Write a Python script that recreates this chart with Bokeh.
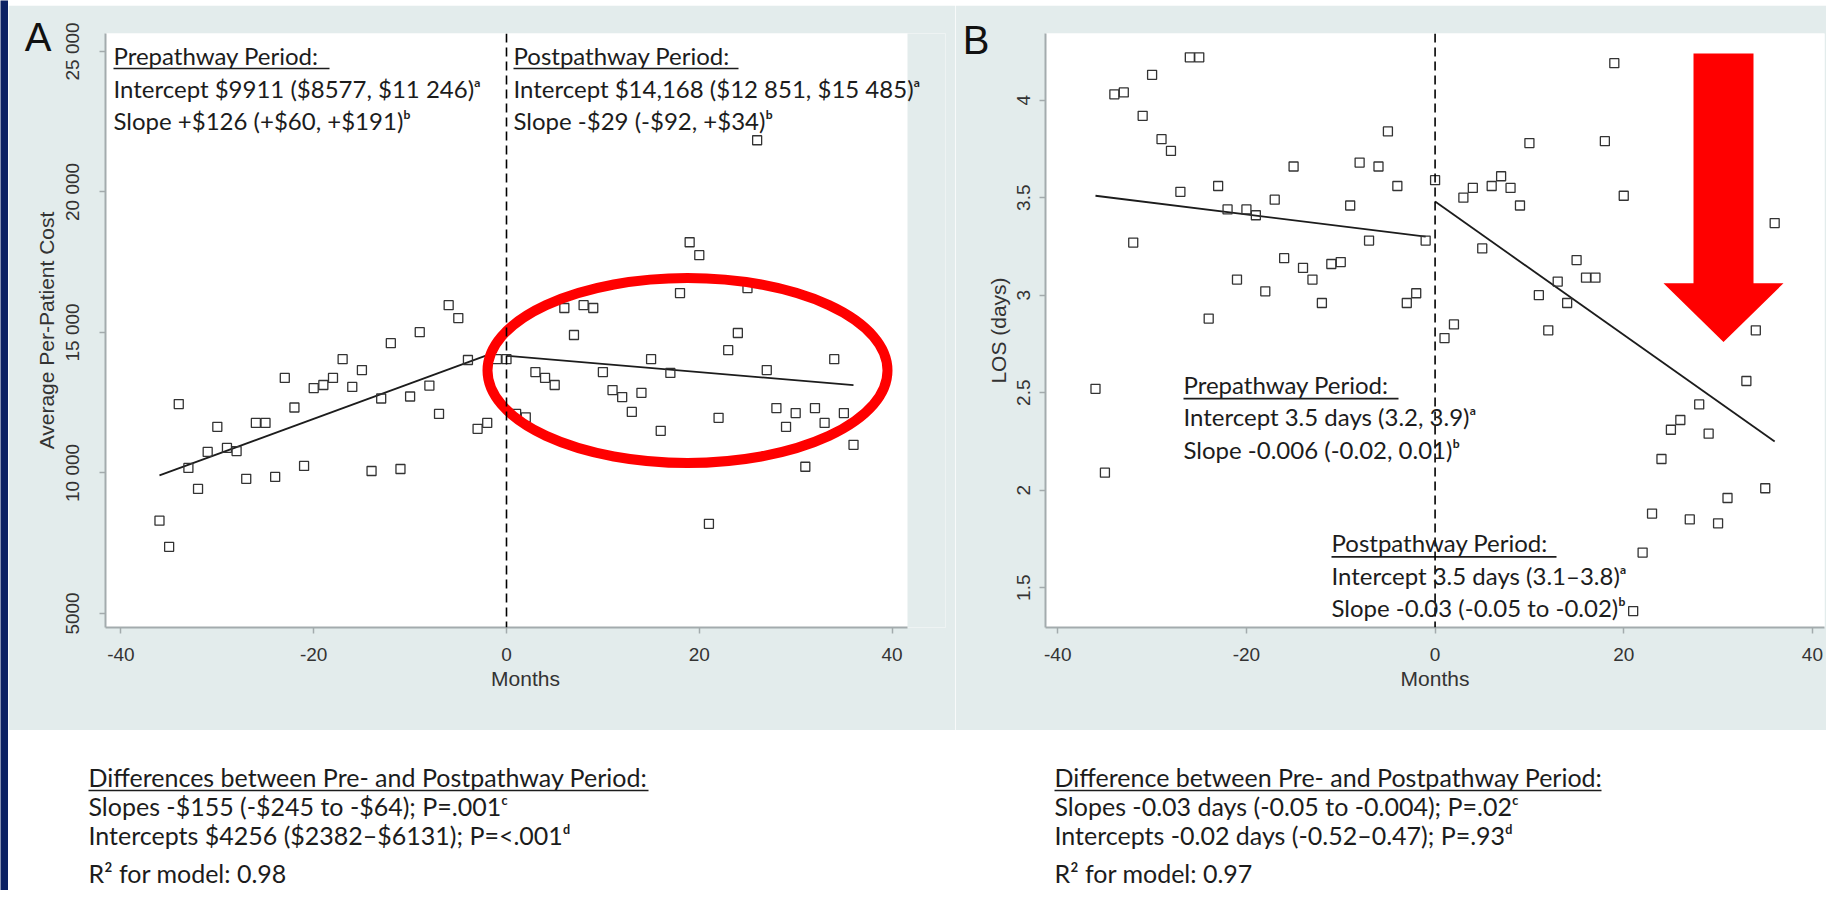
from bokeh.plotting import figure
from bokeh.models import Range1d, Label, Span, FixedTicker, LinearAxis
from bokeh.layouts import column, row
from bokeh.embed import file_html
from bokeh.resources import INLINE

# ---------------- data ----------------
months_pre = list(range(-36, 0))
months_post = list(range(0, 37))

cost_pre = [8300, 7370, 12450, 10180, 9430, 10750, 11640, 10890, 10780, 9790,
            11780, 11780, 9860, 13380, 12330, 10250, 13020, 13130, 13380, 14050,
            13060, 13660, 10070, 12650, 14620, 10140, 12720, 15010, 13110, 12100,
            15970, 15510, 14020, 11570, 11780, 14050]
cost_post = [14050, 12100, 11980, 13590, 13380, 13130, 15870, 14910, 15970, 15870,
             13590, 12950, 12700, 12170, 12850, 14050, 11500, 13560, 16400, 18210,
             17750, 8190, 11960, 14370, 14980, 16580, 21840, 13660, 12310, 11640,
             12130, 10220, 12310, 11780, 14050, 12130, 11000]

los_pre = [2.52, 2.09, 4.03, 4.04, 3.27, 3.92, 4.13, 3.80, 3.74, 3.53,
           4.22, 4.22, 2.88, 3.56, 3.44, 3.08, 3.44, 3.41, 3.02, 3.49,
           3.19, 3.66, 3.14, 3.08, 2.96, 3.16, 3.17, 3.46, 3.68, 3.28,
           3.66, 3.84, 3.56, 2.96, 3.01, 3.28]
months_post_los = [0, 1, 2, 3, 4, 5, 6, 7, 8, 9, 10, 11, 12, 13, 14, 15, 16, 17,
                   18, 19, 20, 21, 22, 23, 24, 25, 26, 27, 28, 29, 30, 31, 33, 34, 35, 36]
los_post = [3.59, 2.78, 2.85, 3.50, 3.55, 3.24, 3.56, 3.61, 3.55, 3.46,
            3.78, 3.00, 2.82, 3.07, 2.96, 3.18, 3.09, 3.09, 3.79, 4.19,
            3.51, 1.38, 1.68, 1.88, 2.16, 2.31, 2.36, 1.85, 2.44, 2.29,
            1.83, 1.96, 2.56, 2.82, 2.01, 3.37]

# fitted segments (end points)
cost_fit_pre_x, cost_fit_pre_y = [-36, -1], [9911, 14320]
cost_fit_post_x, cost_fit_post_y = [0, 36], [14168, 13124]
los_fit_pre_x, los_fit_pre_y = [-36, -1], [3.51, 3.30]
los_fit_post_x, los_fit_post_y = [0, 36], [3.48, 2.25]

x_ticks = [-40, -20, 0, 20, 40]
x_tick_labels = ["-40", "-20", "0", "20", "40"]
cost_ticks = [5000, 10000, 15000, 20000, 25000]
cost_tick_labels = ["5000", "10 000", "15 000", "20 000", "25 000"]
los_ticks = [1.5, 2, 2.5, 3, 3.5, 4]
los_tick_labels = ["1.5", "2", "2.5", "3", "3.5", "4"]

# ---------------- styles / geometry ----------------
FONT_TXT = "Lato"
FONT_AX = "Liberation Sans"
GRAY_BG = "#e3ecec"
NAVY = "#0c2163"
AXIS_C = "#a3abad"
INK = "#1c1c1c"
RED = "#ff0000"

# panel A: frame pixels (left, right, top, bottom) and range start / px per unit
A_FR = (105, 945, 33, 627)
A_X0, A_XPU = -41.6, 9.6394
A_Y0, A_YPU = 4500, 0.0281
A_XR = (A_X0, A_X0 + (A_FR[1] - A_FR[0]) / A_XPU)
A_YR = (A_Y0, A_Y0 + (A_FR[3] - A_FR[2]) / A_YPU)

B_FR = (1045, 1824, 30, 627)
B_X0, B_XPU = -41.3, 9.433
B_Y0, B_YPU = 1.296, 196.0
B_XR = (B_X0, B_X0 + (B_FR[1] - B_FR[0]) / B_XPU)
B_YR = (B_Y0, B_Y0 + (B_FR[3] - B_FR[2]) / B_YPU)


def conv(px0, px1, lo, hi):
    return lambda px: lo + (px - px0) / (px1 - px0) * (hi - lo)


ax_ = conv(A_FR[0], A_FR[1], *A_XR)
ay_ = conv(A_FR[3], A_FR[2], *A_YR)
bx_ = conv(B_FR[0], B_FR[1], *B_XR)
by_ = conv(B_FR[3], B_FR[2], *B_YR)


def style_axes(p, ylab, y_std, y_lab_std, x_std=14, x_lab_std=3):
    for ax in (p.xaxis[0], p.yaxis[0]):
        ax.axis_line_color = AXIS_C
        ax.axis_line_width = 2
        ax.major_tick_line_color = AXIS_C
        ax.major_tick_line_width = 1.5
        ax.major_tick_out = 6
        ax.major_tick_in = 0
        ax.minor_tick_line_color = None
        ax.major_label_text_font = FONT_AX
        ax.major_label_text_font_size = "19px"
        ax.major_label_text_color = "#333333"
        ax.axis_label_text_font = FONT_AX
        ax.axis_label_text_font_size = "21px"
        ax.axis_label_text_font_style = "normal"
        ax.axis_label_text_color = "#333333"
    p.xaxis.axis_label = "Months"
    p.yaxis.axis_label = ylab
    p.xaxis.major_label_standoff = x_std
    p.xaxis.axis_label_standoff = x_lab_std
    p.yaxis.major_label_standoff = y_std
    p.yaxis.axis_label_standoff = y_lab_std
    p.yaxis.major_label_orientation = "vertical"
    p.grid.visible = False
    p.outline_line_color = None


def make_panel(x_left, width, fr, xr, yr):
    return figure(width=width, height=725, x_range=Range1d(*xr), y_range=Range1d(*yr),
                  output_backend="svg", toolbar_location=None,
                  min_border_left=fr[0] - x_left, min_border_right=x_left + width - fr[1],
                  min_border_top=fr[2] - 5, min_border_bottom=730 - fr[3],
                  background_fill_color="white", border_fill_color=GRAY_BG)


def add_letter(p, yval, letter, standoff):
    ax = LinearAxis(ticker=FixedTicker(ticks=[yval]), major_label_overrides={yval: letter},
                    axis_line_color=None, major_tick_line_color=None, minor_tick_line_color=None,
                    major_tick_out=0, major_tick_in=0, major_label_standoff=standoff,
                    major_label_text_font=FONT_AX, major_label_text_font_size="40px",
                    major_label_text_color="#111111")
    p.add_layout(ax, "left")


def add_text(p, fx, fy, x, y, txt, size="24px", font=FONT_TXT):
    p.add_layout(Label(x=fx(x), y=fy(y), text=txt, text_font=font, text_font_size=size,
                       text_color=INK, text_baseline="middle", text_align="left"))


def add_uline(p, fx, fy, x0, x1, y):
    p.segment(x0=[fx(x0)], y0=[fy(y)], x1=[fx(x1)], y1=[fy(y)], line_color=INK, line_width=1.6)


def strip(w, h, color):
    s = figure(width=w, height=h, output_backend="svg", toolbar_location=None, min_border=0,
               x_axis_location=None, y_axis_location=None,
               x_range=Range1d(0, 1), y_range=Range1d(0, 1),
               background_fill_color=color, border_fill_color=color)
    s.grid.visible = False
    s.outline_line_color = None
    return s


# ---------------- panel A ----------------
pA = make_panel(8, 947, A_FR, A_XR, A_YR)
style_axes(pA, "Average Per-Patient Cost", 16, 2)
pA.xaxis.ticker = FixedTicker(ticks=x_ticks)
pA.xaxis.major_label_overrides = dict(zip(x_ticks, x_tick_labels))
pA.xaxis.bounds = (A_XR[0], ax_(907))
pA.yaxis.ticker = FixedTicker(ticks=cost_ticks)
pA.yaxis.major_label_overrides = dict(zip(cost_ticks, cost_tick_labels))
add_letter(pA, 25500, "A", -20)

# grey margin to the right of the white plot region (text runs over it)
pA.quad(left=[ax_(907)], right=[A_XR[1] + 5], bottom=[A_YR[0] - 5000], top=[A_YR[1] + 5000],
        fill_color=GRAY_BG, line_color=None, level="underlay")

pA.add_layout(Span(location=0, dimension="height", line_color="black", line_dash="9 5", line_width=1.6))
pA.line(cost_fit_pre_x, cost_fit_pre_y, line_color=INK, line_width=1.8)
pA.line(cost_fit_post_x, cost_fit_post_y, line_color=INK, line_width=1.8)
pA.scatter(months_pre, cost_pre, marker="square", size=9, fill_color=None, line_color="#333333", line_width=1.3)
pA.scatter(months_post, cost_post, marker="square", size=9, fill_color=None, line_color="#333333", line_width=1.3)

ell_cx, ell_cy = ax_(687), ay_(370)
ell_w = ax_(887) - ax_(487)
ell_h = ay_(278) - ay_(463)
pA.ellipse(x=[ell_cx], y=[ell_cy], width=[ell_w], height=[ell_h], fill_color=None,
           line_color=RED, line_width=10)

add_text(pA, ax_, ay_, 113, 55, "Prepathway Period:")
add_text(pA, ax_, ay_, 113, 88, "Intercept $9911 ($8577, $11 246)\u1d43")
add_text(pA, ax_, ay_, 113, 120, "Slope +$126 (+$60, +$191)\u1d47")
add_text(pA, ax_, ay_, 513, 55, "Postpathway Period:")
add_text(pA, ax_, ay_, 513, 88, "Intercept $14,168 ($12 851, $15 485)\u1d43")
add_text(pA, ax_, ay_, 513, 120, "Slope -$29 (-$92, +$34)\u1d47")
add_uline(pA, ax_, ay_, 113, 329, 68)
add_uline(pA, ax_, ay_, 513, 738, 68)

# ---------------- panel B ----------------
pB = make_panel(955, 871, B_FR, B_XR, B_YR)
style_axes(pB, "LOS (days)", 9, 5)
pB.xaxis.ticker = FixedTicker(ticks=x_ticks)
pB.xaxis.major_label_overrides = dict(zip(x_ticks, x_tick_labels))
pB.yaxis.ticker = FixedTicker(ticks=los_ticks)
pB.yaxis.major_label_overrides = dict(zip(los_ticks, los_tick_labels))
add_letter(pB, 4.31, "B", -6)

pB.add_layout(Span(location=0, dimension="height", line_color="black", line_dash="9 5", line_width=1.6))
pB.line(los_fit_pre_x, los_fit_pre_y, line_color=INK, line_width=1.8)
pB.line(los_fit_post_x, los_fit_post_y, line_color=INK, line_width=1.8)
pB.scatter(months_pre, los_pre, marker="square", size=9, fill_color=None, line_color="#333333", line_width=1.3)
pB.scatter(months_post_los, los_post, marker="square", size=9, fill_color=None, line_color="#333333", line_width=1.3)

arrow_px = [1693, 1753, 1753, 1783, 1723, 1663, 1693]
arrow_py = [50, 50, 281, 281, 340, 281, 281]
pB.patch([bx_(v) for v in arrow_px], [by_(v) for v in arrow_py], fill_color=RED, line_color=None)

add_text(pB, bx_, by_, 1183, 383, "Prepathway Period:")
add_text(pB, bx_, by_, 1183, 415, "Intercept 3.5 days (3.2, 3.9)\u1d43")
add_text(pB, bx_, by_, 1183, 448, "Slope -0.006 (-0.02, 0.01)\u1d47")
add_text(pB, bx_, by_, 1331, 542, "Postpathway Period:")
add_text(pB, bx_, by_, 1331, 575, "Intercept 3.5 days (3.1\u20133.8)\u1d43")
add_text(pB, bx_, by_, 1331, 607, "Slope -0.03 (-0.05 to -0.02)\u1d47")
add_uline(pB, bx_, by_, 1183, 1398, 397)
add_uline(pB, bx_, by_, 1331, 1556, 556)

# ---------------- bottom notes ----------------
pN = figure(width=1818, height=160, x_range=Range1d(8, 1826), y_range=Range1d(890, 730),
            output_backend="svg", toolbar_location=None, min_border=0,
            x_axis_location=None, y_axis_location=None,
            background_fill_color="white", border_fill_color="white")
pN.grid.visible = False
pN.outline_line_color = None
ident = lambda v: v

notes_A = ["Differences between Pre- and Postpathway Period:",
           "Slopes -$155 (-$245 to -$64); P=.001\u1d9c",
           "Intercepts $4256 ($2382\u2013$6131); P=<.001\u1d48",
           "R\u00b2 for model: 0.98"]
notes_B = ["Difference between Pre- and Postpathway Period:",
           "Slopes -0.03 days (-0.05 to -0.004); P=.02\u1d9c",
           "Intercepts -0.02 days (-0.52\u20130.47); P=.93\u1d48",
           "R\u00b2 for model: 0.97"]
note_y = [776, 805, 834, 872]
for x0, notes, ul_end in ((88, notes_A, 648), (1054, notes_B, 1601)):
    for yy, t in zip(note_y, notes):
        add_text(pN, ident, ident, x0, yy, t, size="25px")
    add_uline(pN, ident, ident, x0, ul_end, 790)

layout = row(strip(8, 890, NAVY),
             column(strip(1818, 5, NAVY), row(pA, pB), pN))
open("out.html", "w").write(file_html(layout, INLINE))
